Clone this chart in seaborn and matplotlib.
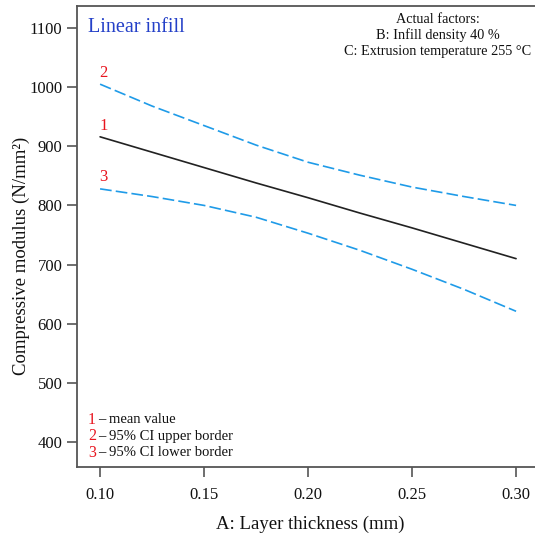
import numpy as np
import pandas as pd
import matplotlib
matplotlib.use("Agg")
import matplotlib.pyplot as plt
import seaborn as sns

# Data
layer_thickness = [0.10, 0.125, 0.15, 0.175, 0.20, 0.225, 0.25, 0.275, 0.30]
mean_value = [916, 890, 864, 838, 813, 787, 762, 736, 710]
ci_upper = [1005, 968, 935, 902, 873, 851, 831, 815, 800]
ci_lower = [828, 815, 800, 780, 753, 724, 692, 658, 621]

x_ticks = [0.10, 0.15, 0.20, 0.25, 0.30]
x_tick_labels = ["0.10", "0.15", "0.20", "0.25", "0.30"]
y_ticks = [400, 500, 600, 700, 800, 900, 1000, 1100]

title_text = "Linear infill"
factors_text = "Actual factors:\nB: Infill density 40 %\nC: Extrusion temperature 255 °C"
legend_items = [("1", "mean value"), ("2", "95% CI upper border"), ("3", "95% CI lower border")]

sns.set_theme(style="white")
plt.rcParams['font.family'] = ['Liberation Serif', 'DejaVu Serif']

df = pd.DataFrame({
    "x": layer_thickness * 3,
    "y": mean_value + ci_upper + ci_lower,
    "series": ["mean"] * len(layer_thickness) + ["upper"] * len(layer_thickness) + ["lower"] * len(layer_thickness),
})

fig = plt.figure(figsize=(5.35, 5.37), dpi=100)
ax = fig.add_axes([77 / 535, 1 - 467 / 537, 1 - 77 / 535, (467 - 6) / 537])

blue = "#1f9be8"
red = "#e8141e"
sns.lineplot(data=df[df.series == "mean"], x="x", y="y", color="#222222", lw=1.2, ax=ax)
for s in ["upper", "lower"]:
    sns.lineplot(data=df[df.series == s], x="x", y="y", color=blue, lw=1.2,
                 ax=ax, dashes=False, linestyle=(0, (7, 2.5)))

ax.set_xlim(0.0889, 0.3091)
ax.set_ylim(357.7, 1137.2)
ax.set_xticks(x_ticks)
ax.set_xticklabels(x_tick_labels)
ax.set_yticks(y_ticks)

spine_color = "#555555"
for side in ["left", "bottom", "top"]:
    ax.spines[side].set_color(spine_color)
    ax.spines[side].set_linewidth(1.3)
ax.spines["right"].set_visible(False)
ax.tick_params(axis="both", direction="out", length=7.5, width=1.2, color=spine_color,
               labelsize=12, labelcolor="#111111", pad=3)
ax.tick_params(axis="x", pad=7)
ax.tick_params(left=True, bottom=True)

ax.set_xlabel("A: Layer thickness (mm)", fontsize=13.5, color="#111111")
ax.set_ylabel("Compressive modulus (N/mm²)", fontsize=13.5, color="#111111")
ax.xaxis.set_label_coords(0.509, -0.106)
ax.yaxis.set_label_coords(-0.102, 0.458)

ax.text(0.024, 0.975, title_text, transform=ax.transAxes, fontsize=14.5,
        color="#2440c8", ha="left", va="top")
ax.text(0.788, 0.985, factors_text, transform=ax.transAxes, fontsize=10.3,
        color="#111111", ha="center", va="top", linespacing=1.25)

# line number labels
ax.text(layer_thickness[0] - 0.0005, ci_upper[0] + 6, "2", color=red, fontsize=12, ha="left", va="bottom")
ax.text(layer_thickness[0] - 0.0005, mean_value[0] + 4, "1", color=red, fontsize=12, ha="left", va="bottom")
ax.text(layer_thickness[0] - 0.0005, ci_lower[0] + 6, "3", color=red, fontsize=12, ha="left", va="bottom")

# legend text block
y0 = 0.103
for i, (num, label) in enumerate(legend_items):
    yy = y0 - i * 0.036
    ax.text(0.024, yy, num, transform=ax.transAxes, color=red, fontsize=11.5, ha="left", va="center")
    ax.text(0.045, yy, "– " + label, transform=ax.transAxes, color="#111111", fontsize=10.5,
            ha="left", va="center")

fig.savefig("out.png", dpi=100)
